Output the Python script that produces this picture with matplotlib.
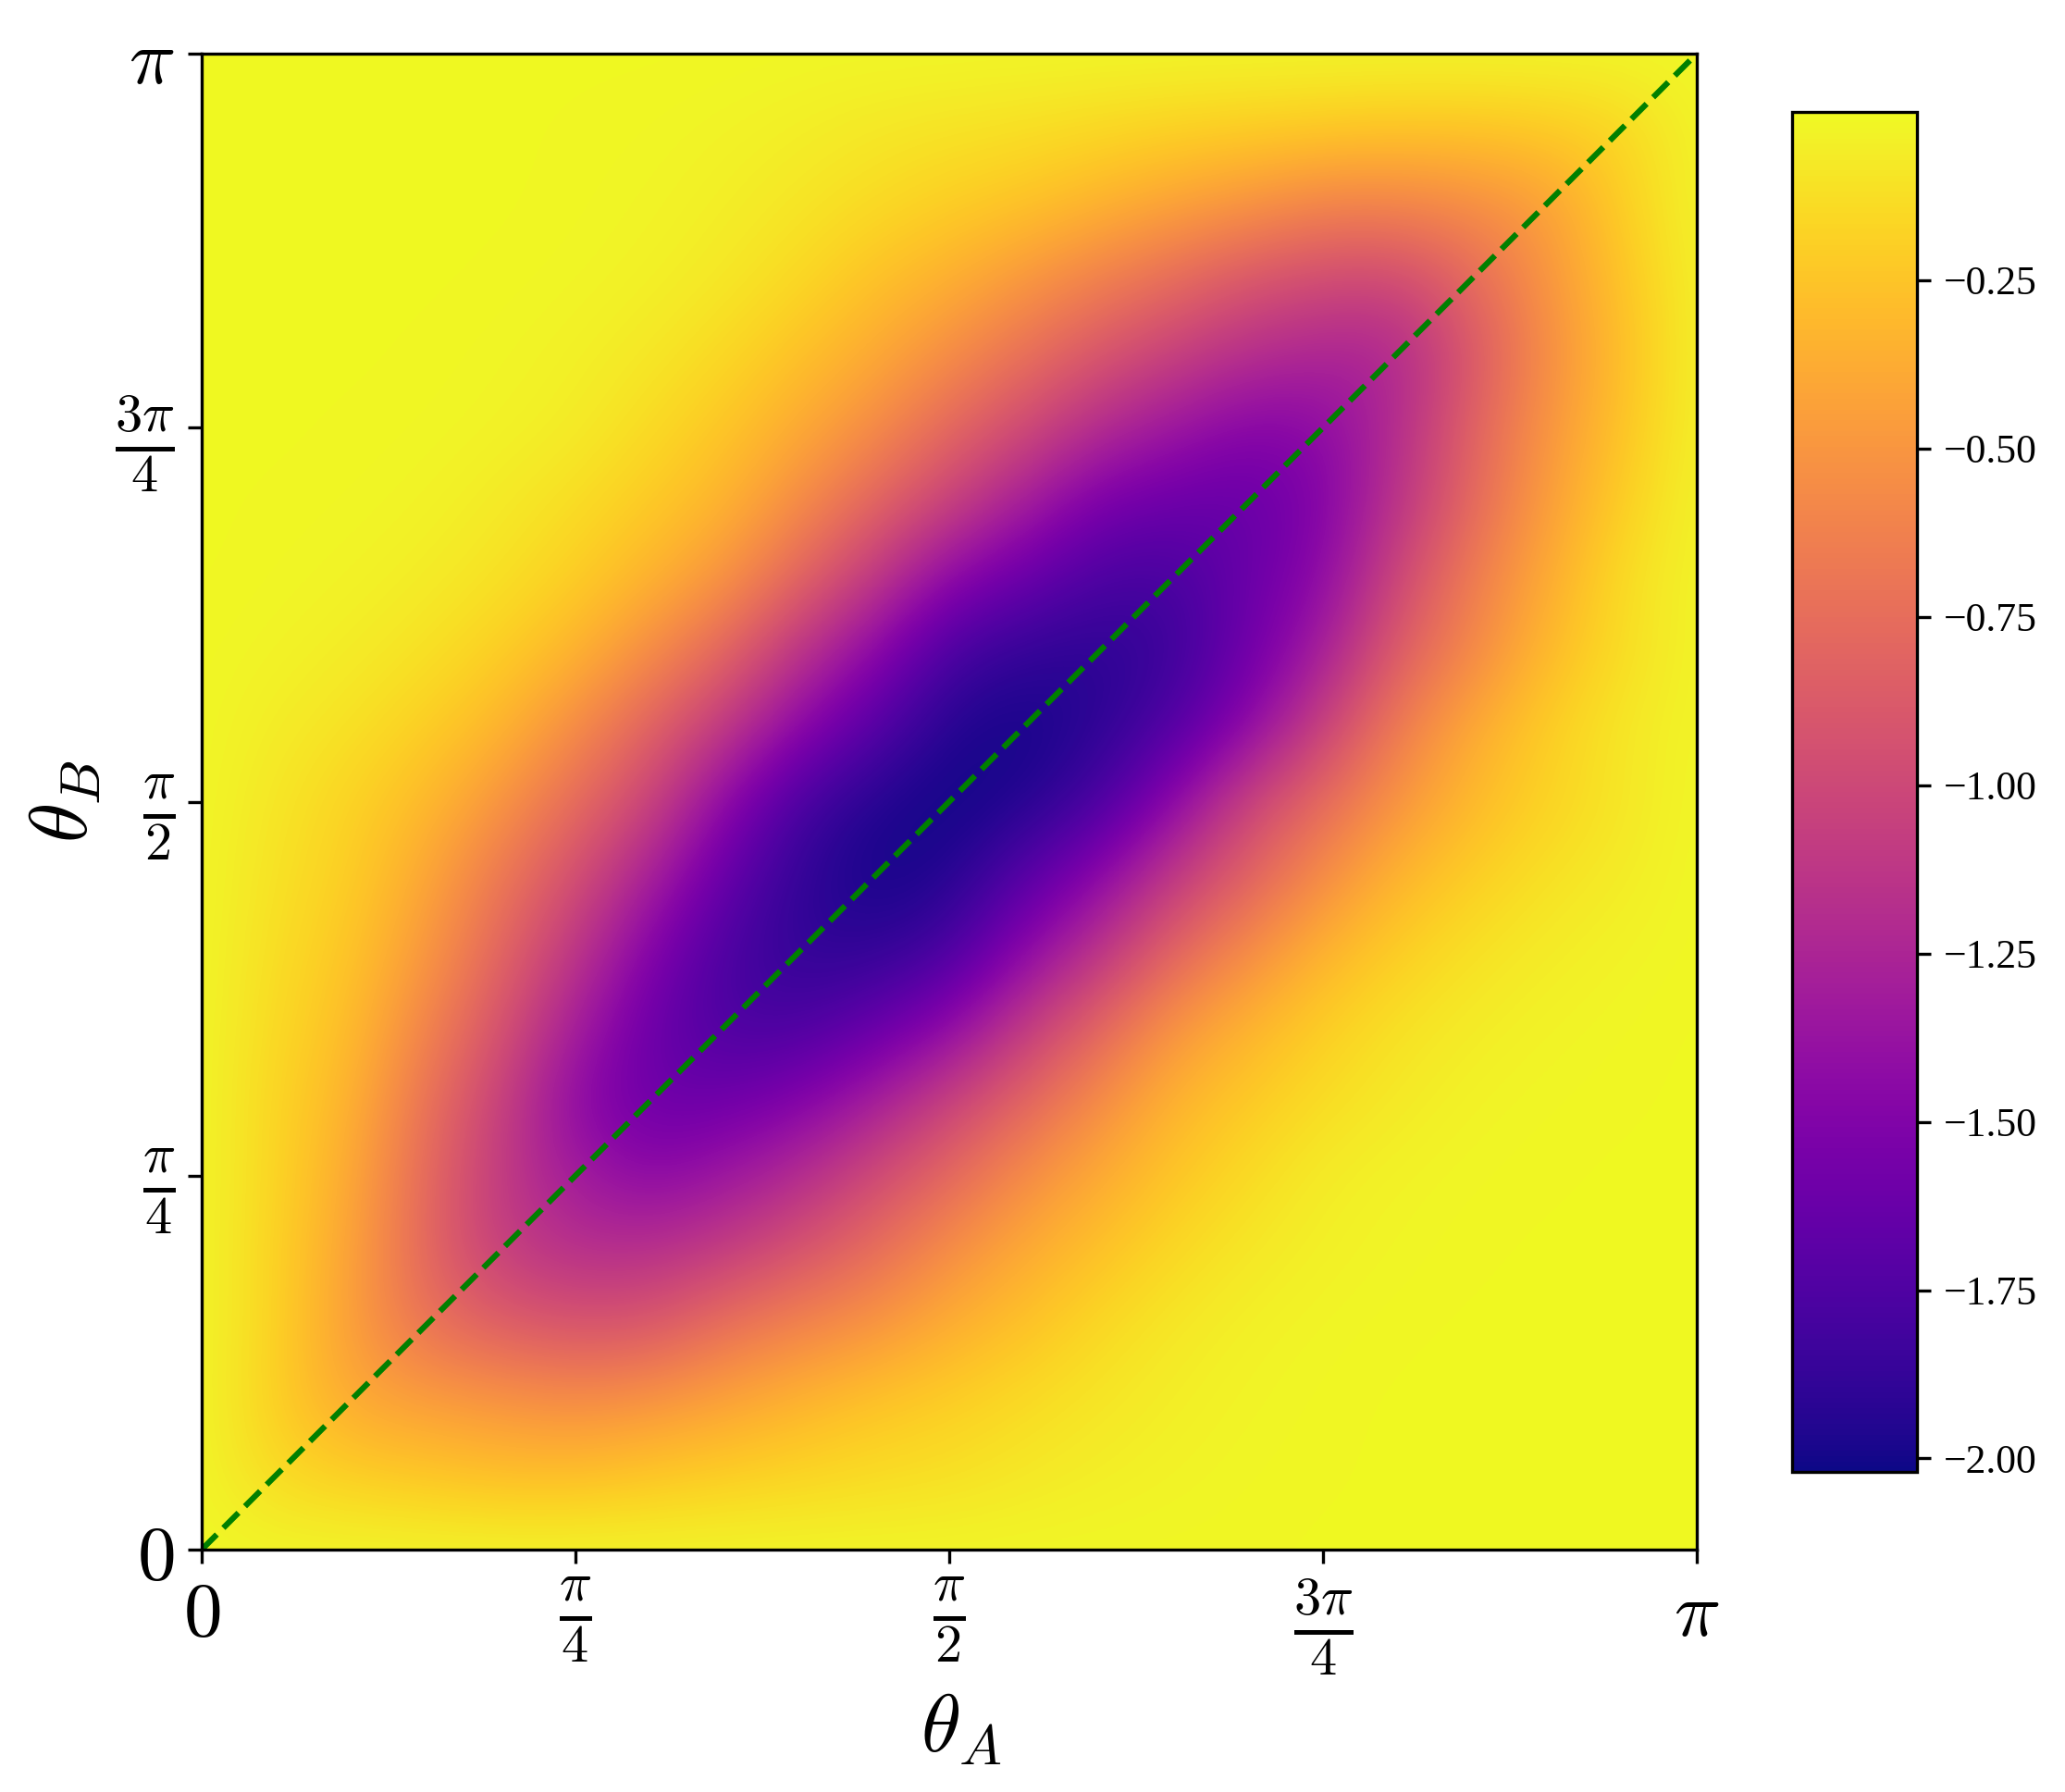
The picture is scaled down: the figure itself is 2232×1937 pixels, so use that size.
import numpy as np
import matplotlib
matplotlib.use('Agg')
import matplotlib.pyplot as plt

plt.rcParams['mathtext.fontset'] = 'cm'

# theta_B rows from 0 to pi, theta_A columns from 0 to pi, in steps of pi/20
energy = np.array([
 [-.01,-.01,-.01,-.01,-.01,-.01,-.01,-.01,-.01,-.01,-.01,-.01,-.01,-.01,-.01,-.005,-.005,-.005,-.005,-.005,-.005],
 [-.01,-.15,-.20,-.24,-.28,-.28,-.24,-.20,-.17,-.14,-.12,-.08,-.05,-.03,-.015,-.01,-.005,-.005,-.005,-.005,-.005],
 [-.01,-.20,-.40,-.45,-.50,-.55,-.50,-.42,-.33,-.25,-.20,-.14,-.09,-.05,-.025,-.012,-.005,-.005,-.005,-.005,-.005],
 [-.01,-.18,-.45,-.72,-.85,-.92,-.90,-.72,-.60,-.50,-.36,-.26,-.15,-.08,-.04,-.02,-.01,-.005,-.005,-.005,-.005],
 [-.01,-.18,-.42,-.80,-1.08,-1.18,-1.18,-1.08,-.92,-.75,-.54,-.38,-.26,-.15,-.08,-.04,-.02,-.01,-.005,-.005,-.005],
 [-.01,-.17,-.38,-.78,-1.10,-1.32,-1.45,-1.35,-1.20,-.98,-.78,-.55,-.38,-.24,-.14,-.06,-.03,-.015,-.01,-.005,-.005],
 [-.01,-.17,-.33,-.72,-1.05,-1.45,-1.62,-1.60,-1.50,-1.30,-1.04,-.80,-.55,-.33,-.22,-.13,-.07,-.03,-.015,-.01,-.005],
 [-.01,-.15,-.28,-.60,-.92,-1.30,-1.62,-1.78,-1.78,-1.65,-1.45,-1.10,-.80,-.50,-.33,-.20,-.11,-.06,-.03,-.015,-.005],
 [-.01,-.13,-.24,-.48,-.80,-1.12,-1.50,-1.78,-1.90,-1.90,-1.80,-1.45,-1.15,-.80,-.55,-.33,-.20,-.11,-.06,-.03,-.01],
 [-.01,-.11,-.20,-.40,-.68,-.95,-1.28,-1.65,-1.90,-2.00,-1.96,-1.72,-1.45,-1.10,-.82,-.55,-.32,-.20,-.11,-.06,-.01],
 [-.01,-.09,-.18,-.30,-.50,-.76,-1.02,-1.45,-1.80,-1.96,-2.02,-1.96,-1.80,-1.45,-1.02,-.76,-.50,-.30,-.18,-.09,-.01],
 [-.01,-.06,-.11,-.20,-.32,-.55,-.82,-1.10,-1.45,-1.72,-1.96,-2.00,-1.92,-1.75,-1.45,-1.05,-.65,-.38,-.20,-.08,-.02],
 [-.01,-.03,-.06,-.11,-.20,-.33,-.55,-.80,-1.15,-1.45,-1.80,-1.90,-1.92,-1.85,-1.60,-1.30,-.85,-.58,-.30,-.13,-.02],
 [-.005,-.015,-.03,-.06,-.11,-.20,-.33,-.50,-.80,-1.10,-1.45,-1.62,-1.78,-1.80,-1.62,-1.45,-1.00,-.65,-.38,-.13,-.02],
 [-.005,-.01,-.015,-.03,-.07,-.13,-.22,-.33,-.55,-.80,-1.04,-1.30,-1.55,-1.62,-1.65,-1.50,-1.15,-.78,-.45,-.20,-.02],
 [-.005,-.005,-.01,-.015,-.03,-.06,-.14,-.24,-.38,-.55,-.78,-.98,-1.20,-1.35,-1.48,-1.45,-1.20,-.82,-.50,-.25,-.03],
 [-.005,-.005,-.005,-.01,-.02,-.04,-.08,-.15,-.26,-.38,-.54,-.72,-.90,-1.05,-1.18,-1.25,-1.25,-.90,-.55,-.28,-.03],
 [-.005,-.005,-.005,-.005,-.01,-.02,-.04,-.08,-.15,-.26,-.35,-.48,-.62,-.75,-.90,-.98,-1.00,-.78,-.50,-.25,-.03],
 [-.005,-.005,-.005,-.005,-.005,-.012,-.025,-.05,-.09,-.14,-.20,-.25,-.33,-.42,-.50,-.60,-.60,-.55,-.45,-.20,-.02],
 [-.005,-.005,-.005,-.005,-.005,-.01,-.015,-.03,-.05,-.08,-.10,-.12,-.15,-.18,-.20,-.22,-.24,-.24,-.22,-.17,-.02],
 [-.005,-.005,-.005,-.005,-.005,-.005,-.005,-.005,-.01,-.01,-.01,-.01,-.01,-.01,-.01,-.01,-.01,-.01,-.01,-.01,-.01],
])
angle_ticks = [0, np.pi/4, np.pi/2, 3*np.pi/4, np.pi]
angle_labels = [r'$0$', r'$\frac{\pi}{4}$', r'$\frac{\pi}{2}$', r'$\frac{3\pi}{4}$', r'$\pi$']
cbar_ticks = [-0.25, -0.5, -0.75, -1.0, -1.25, -1.5, -1.75, -2.0]
cbar_labels = ['\u22120.25', '\u22120.50', '\u22120.75', '\u22121.00', '\u22121.25', '\u22121.50', '\u22121.75', '\u22122.00']

W, H = 2232, 1937
fig = plt.figure(figsize=(W/300, H/300), dpi=300)
ax = fig.add_axes([218/W, 1-1675/H, (1834-218)/W, (1675-58)/H])
cax = fig.add_axes([1937/W, 1-1591/H, 135/W, (1591-121)/H])

# half a step of margin so the grid nodes land on the angles they belong to
half = np.pi/40
im = ax.imshow(energy, origin='lower', cmap='plasma', vmin=-2.02, vmax=0,
               extent=[-half, np.pi+half, -half, np.pi+half],
               interpolation='bicubic', interpolation_stage='data', aspect='auto')
ax.plot([0, np.pi], [0, np.pi], '--', color='green', lw=1.5)
ax.set_xlim(0, np.pi)
ax.set_ylim(0, np.pi)

ax.set_xticks(angle_ticks)
ax.set_xticklabels(angle_labels, fontsize=20)
ax.set_yticks(angle_ticks)
ax.set_yticklabels(angle_labels, fontsize=20)
ax.set_xlabel(r'$\theta_A$', fontsize=21)
ax.xaxis.set_label_coords(0.508, -0.094)
ax.set_ylabel(r'$\theta_B$', fontsize=21, labelpad=3)

cb = fig.colorbar(im, cax=cax)
cb.set_ticks(cbar_ticks)
cb.set_ticklabels(cbar_labels, fontsize=10.5, family='Liberation Serif')

fig.savefig('out.png', dpi=300)
